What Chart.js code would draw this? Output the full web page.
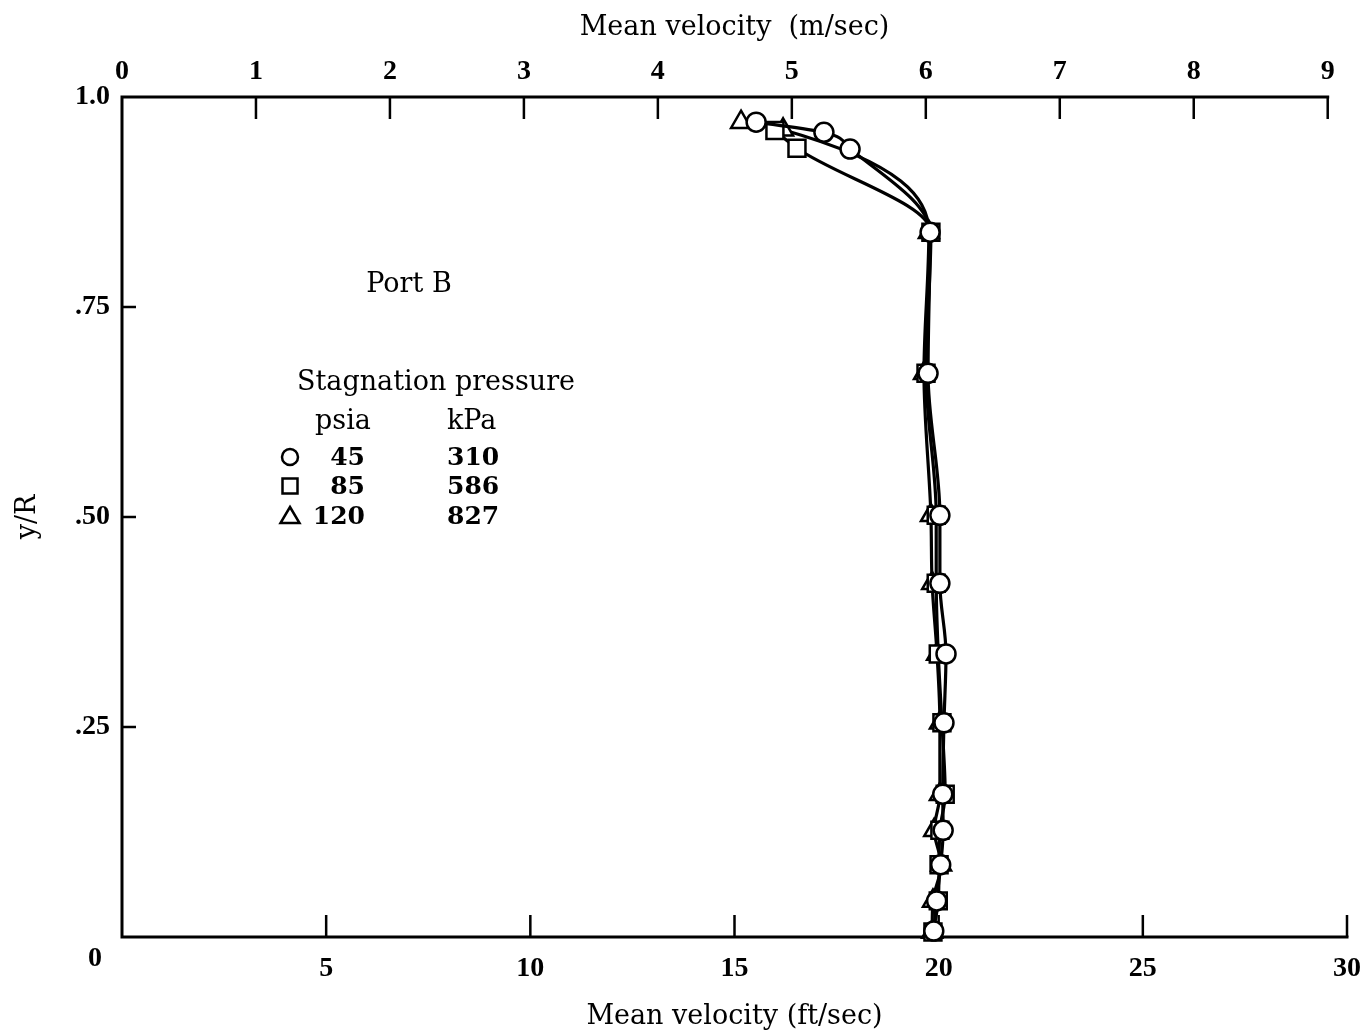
<!DOCTYPE html>
<html>
<head>
<meta charset="utf-8">
<script src="https://cdn.jsdelivr.net/npm/chart.js@4.4.0/dist/chart.umd.min.js"></script>
<style>
  html, body { margin: 0; padding: 0; background: #fff; }
</style>
</head>
<body>
<canvas id="velChart" width="1366" height="1033"></canvas>
<script>
// Datos (velocidad en ft/sec, posicion y/R)
const circleY = [0.007, 0.043, 0.086, 0.127, 0.170, 0.255, 0.337, 0.421, 0.502, 0.671, 0.839, 0.938, 0.958, 0.970];
const circleV = [19.88, 19.95, 20.05, 20.11, 20.10, 20.13, 20.18, 20.03, 20.03, 19.74, 19.79, 17.83, 17.19, 15.53];

const squareY = [0.006, 0.043, 0.086, 0.127, 0.170, 0.255, 0.337, 0.421, 0.502, 0.671, 0.839, 0.939, 0.960];
const squareV = [19.86, 19.99, 20.01, 20.03, 20.16, 20.08, 19.99, 19.94, 19.94, 19.69, 19.81, 16.53, 15.99];

const triangleY = [0.006, 0.043, 0.086, 0.127, 0.170, 0.255, 0.337, 0.421, 0.502, 0.671, 0.839, 0.961, 0.970];
const triangleV = [19.84, 19.86, 20.06, 19.89, 20.03, 20.03, 19.96, 19.84, 19.81, 19.64, 19.76, 16.19, 15.16];

// Ejes
const ftTicks = [0, 5, 10, 15, 20, 25, 30];
const mTicks = [0, 1, 2, 3, 4, 5, 6, 7, 8, 9];
const yTicks = [0, 0.25, 0.5, 0.75, 1.0];
const yTickLabels = ['0', '.25', '.50', '.75', '1.0'];

// Leyenda
const legendPsia = ['45', '85', '120'];
const legendKpa = ['310', '586', '827'];
const legendStyles = ['circle', 'rect', 'triangle'];

const FT_TO_M = 0.3048;
const SERIF = '"DejaVu Serif", "Liberation Serif", serif';
const NUMS = '"Liberation Serif", "DejaVu Serif", serif';

function toPoints(vs, ys) {
  return vs.map((v, i) => ({ x: v, y: ys[i] }));
}

function series(label, vs, ys, style, radius) {
  return {
    label: label,
    data: toPoints(vs, ys),
    indexAxis: 'y',
    showLine: true,
    borderColor: '#000',
    borderWidth: 3.2,
    cubicInterpolationMode: 'monotone',
    pointStyle: style,
    pointRadius: radius,
    pointBorderWidth: 2.5,
    pointBackgroundColor: '#fff',
    pointBorderColor: '#000',
    clip: false
  };
}

// Dibuja un simbolo de la leyenda
function drawSymbol(ctx, style, x, y) {
  ctx.beginPath();
  if (style === 'circle') {
    ctx.arc(x, y, 8, 0, Math.PI * 2);
  } else if (style === 'rect') {
    ctx.rect(x - 7.5, y - 7.5, 15, 15);
  } else {
    ctx.moveTo(x, y - 9);
    ctx.lineTo(x + 9.5, y + 7);
    ctx.lineTo(x - 9.5, y + 7);
    ctx.closePath();
  }
  ctx.stroke();
}

// Marco, marcas hacia dentro y leyenda
const framePlugin = {
  id: 'frame',
  beforeDatasetsDraw(chart) {
    const { ctx, chartArea: a, scales } = chart;
    const xs = scales.x, x2 = scales.x2, ys = scales.y;
    ctx.save();
    ctx.strokeStyle = '#000';
    ctx.lineWidth = 3;
    ctx.beginPath();
    ctx.moveTo(a.left, a.top); ctx.lineTo(a.left, a.bottom);
    ctx.moveTo(a.left - 1.5, a.bottom); ctx.lineTo(xs.getPixelForValue(30) + 1.5, a.bottom);
    ctx.moveTo(a.left - 1.5, a.top); ctx.lineTo(x2.getPixelForValue(9) + 1.5, a.top);
    ctx.stroke();

    ctx.lineWidth = 2.5;
    ctx.beginPath();
    ftTicks.forEach(v => {
      if (v === 0) return;
      const p = xs.getPixelForValue(v);
      ctx.moveTo(p, a.bottom); ctx.lineTo(p, a.bottom - 22);
    });
    mTicks.forEach(v => {
      if (v === 0) return;
      const p = x2.getPixelForValue(v);
      ctx.moveTo(p, a.top); ctx.lineTo(p, a.top + 22);
    });
    yTicks.forEach(v => {
      if (v === 0 || v === 1) return;
      const p = ys.getPixelForValue(v);
      ctx.moveTo(a.left, p); ctx.lineTo(a.left + 14, p);
    });
    ctx.stroke();

    // etiqueta del origen
    ctx.fillStyle = '#000';
    ctx.font = 'bold 28px ' + NUMS;
    ctx.textAlign = 'center';
    ctx.textBaseline = 'middle';
    ctx.fillText('0', a.left - 27, a.bottom + 22);

    // leyenda
    ctx.font = '27px ' + SERIF;
    ctx.textAlign = 'center';
    ctx.fillText('Port B', 409, 285);
    ctx.textAlign = 'left';
    ctx.fillText('Stagnation pressure', 297, 383);
    ctx.fillText('psia', 315, 422);
    ctx.fillText('kPa', 447, 422);
    ctx.font = 'bold 25px ' + SERIF;
    const rows = [458, 487, 517];
    rows.forEach((ry, i) => {
      ctx.lineWidth = 2.5;
      drawSymbol(ctx, legendStyles[i], 290, ry - 1);
      ctx.textAlign = 'right';
      ctx.fillText(legendPsia[i], 365, ry);
      ctx.textAlign = 'left';
      ctx.fillText(legendKpa[i], 447, ry);
    });
    ctx.restore();
  }
};

const tickFont = { family: NUMS, size: 28, weight: 'bold' };
const titleFont = { family: SERIF, size: 27 };

function noPad(s) {
  s.paddingLeft = 0; s.paddingRight = 0; s.paddingTop = 0; s.paddingBottom = 0;
}

const ctx = document.getElementById('velChart').getContext('2d');
const velChart = new Chart(ctx, {
  type: 'scatter',
  data: {
    datasets: [
      series('45 psia', circleV, circleY, 'circle', 9.5),
      series('85 psia', squareV, squareY, 'rect', 12),
      series('120 psia', triangleV, triangleY, 'triangle', 11.5)
    ]
  },
  options: {
    responsive: false,
    animation: false,
    layout: { padding: { left: 0, right: 19, top: 0, bottom: 0 } },
    plugins: { legend: { display: false }, tooltip: { enabled: false } },
    scales: {
      x: {
        type: 'linear', position: 'bottom', min: 0, max: 30,
        afterBuildTicks: s => { s.ticks = ftTicks.map(v => ({ value: v })); },
        afterFit: s => { s.height = 96; noPad(s); },
        ticks: { callback: v => (v === 0 ? '' : v), color: '#000', font: tickFont, padding: 15, maxRotation: 0 },
        grid: { display: false, drawTicks: false },
        border: { display: false },
        title: { display: true, text: 'Mean velocity (ft/sec)', color: '#000', font: titleFont, padding: { top: 0, bottom: 0 } }
      },
      x2: {
        type: 'linear', position: 'top', min: 0, max: 30 * FT_TO_M,
        afterBuildTicks: s => { s.ticks = mTicks.map(v => ({ value: v })); },
        afterFit: s => { s.height = 97; noPad(s); },
        ticks: { color: '#000', font: tickFont, padding: 8, maxRotation: 0 },
        grid: { display: false, drawTicks: false },
        border: { display: false },
        title: { display: true, text: 'Mean velocity  (m/sec)', color: '#000', font: titleFont, padding: { top: 12, bottom: 0 } }
      },
      y: {
        type: 'linear', position: 'left', min: 0, max: 1,
        afterBuildTicks: s => { s.ticks = yTicks.map(v => ({ value: v })); },
        afterFit: s => { s.width = 122; noPad(s); },
        ticks: {
          callback: v => { const i = yTicks.indexOf(v); return i <= 0 ? '' : yTickLabels[i]; },
          color: '#000', font: tickFont, padding: 12
        },
        grid: { display: false, drawTicks: false },
        border: { display: false },
        title: { display: true, text: 'y/R', color: '#000', font: titleFont, padding: { top: 12, bottom: 0 } }
      }
    }
  },
  plugins: [framePlugin]
});
</script>
</body>
</html>
